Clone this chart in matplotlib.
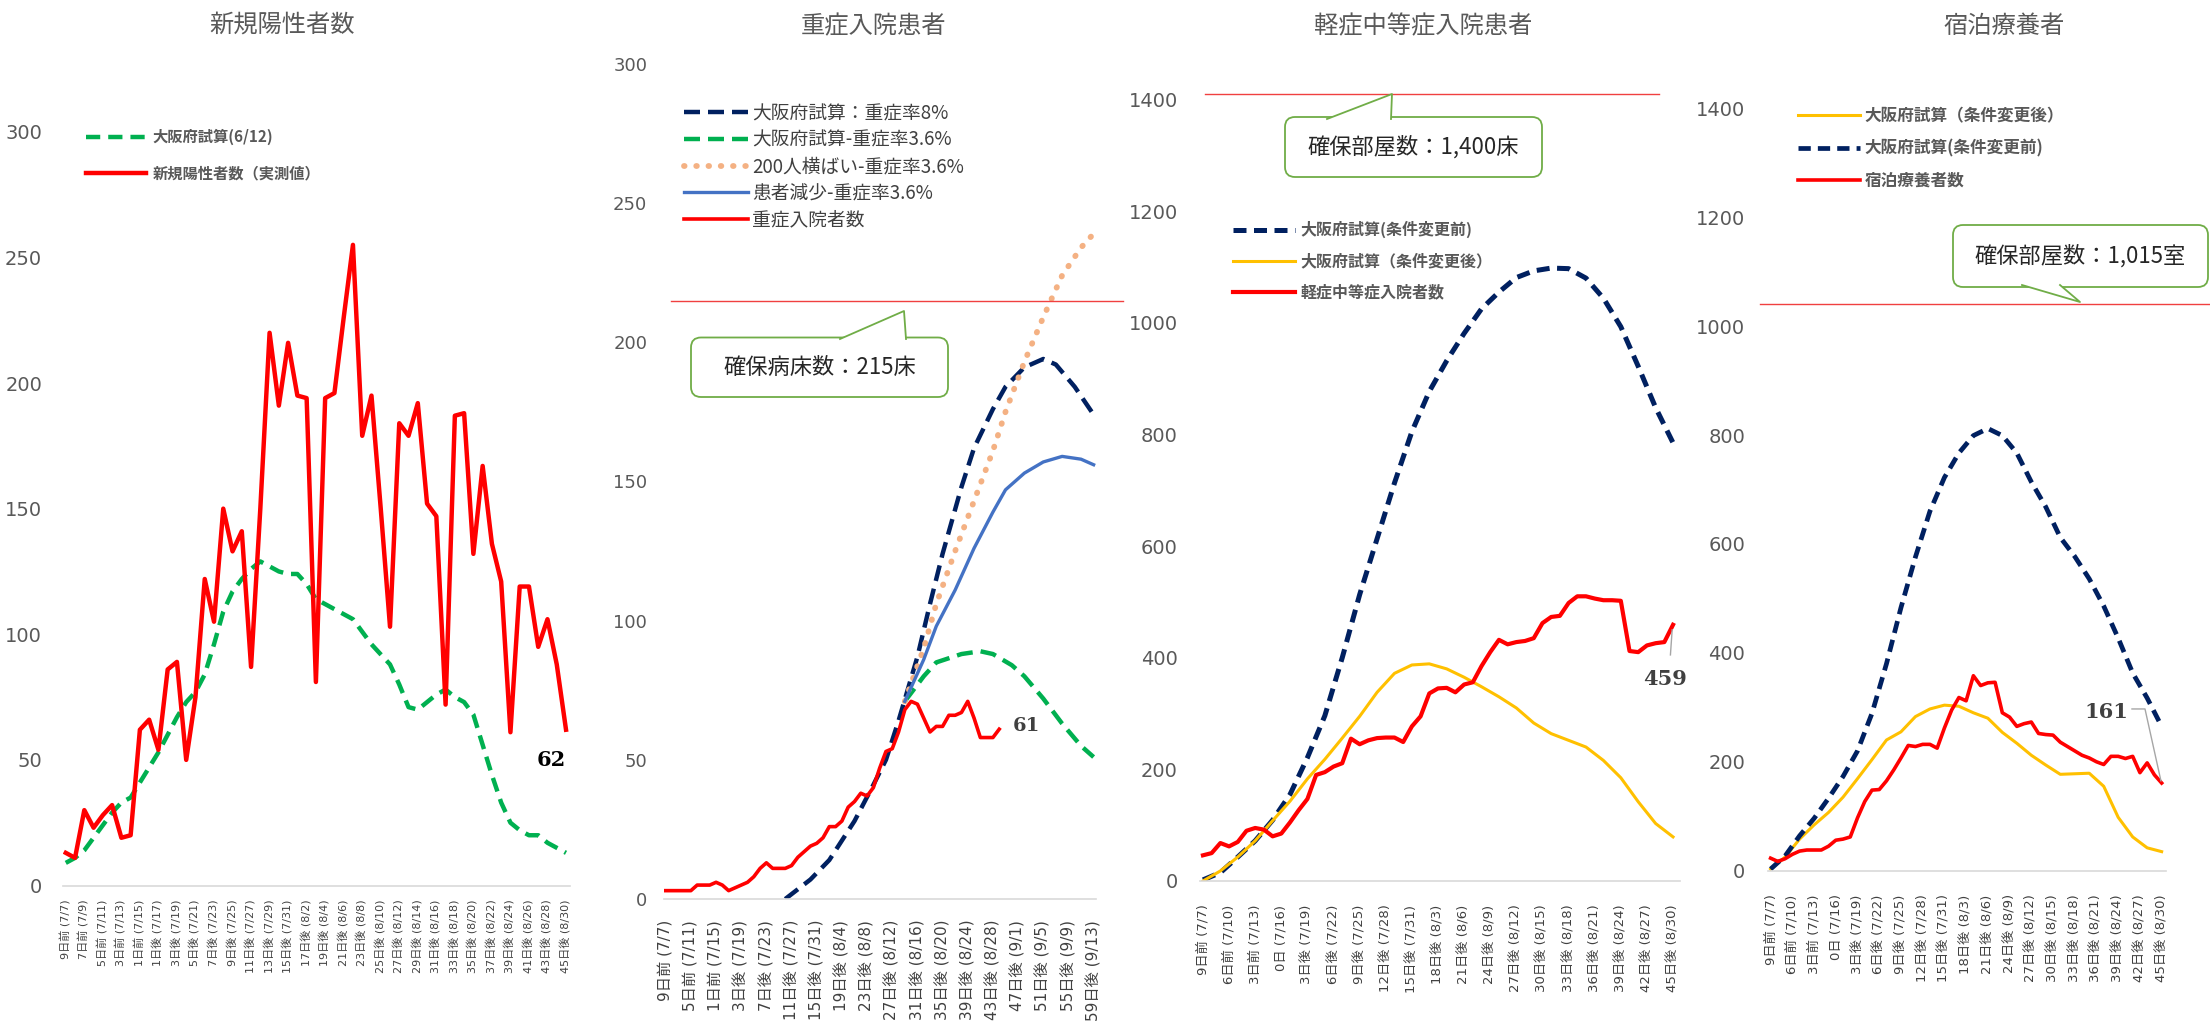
import matplotlib
matplotlib.use("Agg")
import matplotlib.pyplot as plt
from matplotlib.patches import FancyBboxPatch, Polygon
from matplotlib.lines import Line2D
from matplotlib.transforms import Affine2D

W, H = 2210, 1021
plt.rcParams['font.family'] = ['DejaVu Sans', 'Noto Sans CJK JP']
JP = ['Noto Sans CJK JP', 'DejaVu Sans']

# ---------------- data ----------------
# panel 1: 新規陽性者数, daily 7/7 .. 8/30 (day index 0..54)
days_p1 = list(range(55))
new_cases = [13, 11, 30, 23, 28, 32, 19, 20, 62, 66, 54, 86, 89, 50, 75, 122, 105, 150, 133, 141,
             87, 150, 220, 191, 216, 195, 194, 81, 194, 196, 226, 255, 179, 195, 150, 103, 184, 179, 192, 152,
             147, 72, 187, 188, 132, 167, 136, 121, 61, 119, 119, 95, 106, 88, 62]
osaka_0612 = [9, 11, 14, 19, 24, 29, 33, 35, 41, 47, 53, 60, 67, 73, 77, 84, 96, 109, 117, 122,
              126, 129, 127, 125, 124, 124, 120, 114, 112, 110, 108, 106, 101, 96, 92, 88, 80, 71, 70, 73,
              76, 78, 75, 73, 68, 56, 44, 33, 25, 22, 20, 20, 17, 15, 13]
labels_p1 = ['9日前 (7/7)', '7日前 (7/9)', '5日前 (7/11)', '3日前 (7/13)', '1日前 (7/15)', '1日後 (7/17)',
             '3日後 (7/19)', '5日後 (7/21)', '7日後 (7/23)', '9日後 (7/25)', '11日後 (7/27)', '13日後 (7/29)',
             '15日後 (7/31)', '17日後 (8/2)', '19日後 (8/4)', '21日後 (8/6)', '23日後 (8/8)', '25日後 (8/10)',
             '27日後 (8/12)', '29日後 (8/14)', '31日後 (8/16)', '33日後 (8/18)', '35日後 (8/20)', '37日後 (8/22)',
             '39日後 (8/24)', '41日後 (8/26)', '43日後 (8/28)', '45日後 (8/30)']

# panel 2: 重症入院患者, days from 7/7 (0..68)
days_severe = list(range(54))
severe = [3, 3, 3, 3, 3, 5, 5, 5, 6, 5, 3, 4, 5, 6, 8, 11, 13, 11, 11, 11,
          12, 15, 17, 19, 20, 22, 26, 26, 28, 33, 35, 38, 37, 40, 47, 53, 54, 60, 68, 71,
          70, 65, 60, 62, 62, 66, 66, 67, 71, 65, 58, 58, 58, 61]
days_rate8 = [19, 23, 26, 30, 33, 35, 37, 40, 42, 44, 47, 49, 52, 54, 57, 60, 62, 65, 68]
rate8 = [0, 7, 14, 28, 41, 50, 64, 87, 106, 124, 148, 162, 176, 184, 191, 194, 192, 184, 174]
days_rate36 = [38, 41, 43, 47, 50, 52, 55, 57, 60, 63, 66, 68]
rate36 = [71, 80, 85, 88, 89, 88, 84, 80, 72, 63, 55, 51]
days_flat200 = [38, 41, 43, 46, 49, 52, 54, 57, 60, 63, 66, 68]
flat200 = [71, 90, 106, 125, 143, 161, 175, 193, 209, 224, 234, 239]
days_decline = [38, 41, 43, 46, 49, 52, 54, 57, 60, 63, 66, 68]
decline = [71, 86, 98, 111, 126, 139, 147, 153, 157, 159, 158, 156]
labels_p2 = ['9日前 (7/7)', '5日前 (7/11)', '1日前 (7/15)', '3日後 (7/19)', '7日後 (7/23)', '11日後 (7/27)',
             '15日後 (7/31)', '19日後 (8/4)', '23日後 (8/8)', '27日後 (8/12)', '31日後 (8/16)', '35日後 (8/20)',
             '39日後 (8/24)', '43日後 (8/28)', '47日後 (9/1)', '51日後 (9/5)', '55日後 (9/9)', '59日後 (9/13)']

# panel 3: 軽症中等症入院患者
days_p3 = list(range(55))
mild = [46, 50, 68, 62, 70, 90, 95, 92, 80, 85, 105, 127, 147, 190, 195, 205, 211, 255, 245, 252,
        256, 257, 257, 249, 277, 295, 336, 345, 346, 338, 352, 356, 385, 410, 432, 424, 428, 430, 435, 462,
        473, 475, 498, 510, 510, 506, 503, 503, 502, 412, 410, 422, 426, 428, 459]
proj_days = list(range(0, 55, 2))
mild_before = [2, 15, 43, 72, 109, 155, 221, 296, 400, 513, 613, 713, 805, 877, 932, 981, 1025, 1055,
               1081, 1093, 1098, 1097, 1080, 1044, 993, 922, 848, 785]
mild_after = [0, 18, 43, 72, 108, 143, 183, 218, 256, 295, 338, 372, 387, 389, 380, 365, 348, 330,
              310, 283, 264, 252, 240, 216, 185, 142, 103, 79]

# panel 4: 宿泊療養者
hotel = [23, 17, 22, 30, 36, 38, 38, 38, 45, 56, 58, 62, 97, 127, 148, 149, 165, 185, 207, 230,
         228, 232, 232, 225, 262, 295, 318, 312, 358, 340, 345, 346, 290, 282, 265, 270, 273, 252, 250, 249,
         236, 228, 220, 212, 207, 200, 195, 210, 210, 206, 210, 180, 198, 176, 161]
hotel_before = [3, 27, 64, 96, 133, 173, 220, 289, 380, 483, 576, 660, 722, 767, 799, 812, 799, 767,
                714, 668, 612, 577, 536, 486, 427, 363, 317, 265]
hotel_after = [3, 25, 58, 84, 107, 135, 169, 204, 240, 255, 283, 297, 304, 302, 290, 280, 254, 234,
               212, 194, 177, 178, 179, 155, 98, 62, 42, 35]
labels_p34 = ['9日前 (7/7)', '6日前 (7/10)', '3日前 (7/13)', '0日 (7/16)', '3日後 (7/19)', '6日後 (7/22)',
              '9日後 (7/25)', '12日後 (7/28)', '15日後 (7/31)', '18日後 (8/3)', '21日後 (8/6)', '24日後 (8/9)',
              '27日後 (8/12)', '30日後 (8/15)', '33日後 (8/18)', '36日後 (8/21)', '39日後 (8/24)', '42日後 (8/27)',
              '45日後 (8/30)']

RED = '#ff0000'
GREEN = '#00b050'
NAVY = '#002060'
ORANGE = '#f4b183'
BLUE = '#4472c4'
YELLOW = '#ffc000'
BOXEDGE = '#70ad47'

fig = plt.figure(figsize=(W / 100, H / 100), dpi=100)
px = Affine2D().scale(1 / W, -1 / H).translate(0, 1) + fig.transFigure


def add_ax(left, right, top, bottom):
    return fig.add_axes([left / W, 1 - bottom / H, (right - left) / W, (bottom - top) / H])


def style(ax, xlim, ylim, yticks, xticks, xlabels, ypad, xpad, xsize, ysize):
    ax.set_xlim(*xlim)
    ax.set_ylim(*ylim)
    for s in ['top', 'right', 'left']:
        ax.spines[s].set_visible(False)
    ax.spines['bottom'].set_color('#d9d9d9')
    ax.spines['bottom'].set_linewidth(1.2)
    ax.set_yticks(yticks)
    ax.set_xticks(xticks)
    ax.set_xticklabels(xlabels, rotation=90, family=['DejaVu Sans', 'Noto Sans CJK JP'])
    ax.tick_params(axis='y', length=0, pad=ypad, labelsize=ysize, labelcolor='#595959')
    ax.tick_params(axis='x', length=0, pad=xpad, labelsize=xsize, labelcolor='#404040')


def callout(x0, y0, x1, y1, wedge, text):
    box = FancyBboxPatch((x0, y0), x1 - x0, y1 - y0, boxstyle='round,pad=0,rounding_size=10',
                         transform=px, facecolor='white', edgecolor=BOXEDGE, lw=1.3, zorder=5)
    fig.add_artist(box)
    fig.add_artist(Polygon(wedge, closed=True, transform=px, facecolor='white', edgecolor='none', zorder=6))
    a, tip, b = wedge
    fig.add_artist(Line2D([a[0], tip[0], b[0]], [a[1], tip[1], b[1]], transform=px,
                          color=BOXEDGE, lw=1.3, zorder=7))
    fig.text((x0 + x1) / 2 / W, 1 - (y0 + y1) / 2 / H, text, ha='center', va='center',
             fontsize=16, family=JP, color='#262626', zorder=8)


def title(xc, text):
    fig.text(xc / W, 1 - 26 / H, text, ha='center', va='center', fontsize=17.5, family=JP, color='#595959')


# ---------------- panel 1 ----------------
ax1 = add_ax(63, 570, 131.8, 885.5)
g1, = ax1.plot(days_p1, osaka_0612, color=GREEN, lw=3.2, ls=(0, (3.2, 1.8)))
r1, = ax1.plot(days_p1, new_cases, color=RED, lw=3.2)
style(ax1, (-0.3, 54.43), (0, 300), range(0, 301, 50), range(0, 55, 2), labels_p1, 15, 10, 8, 14)
ax1.text(52.4, 50, '62', ha='center', va='center', fontsize=15, family='DejaVu Serif',
         weight='bold', color='black')
ax1.legend([g1, r1], ['大阪府試算(6/12)', '新規陽性者数（実測値）'], loc='upper left',
           bbox_to_anchor=(86 / W, 1 - 129 / H), bbox_transform=fig.transFigure, frameon=False,
           borderpad=0, borderaxespad=0, handlelength=3.9, handletextpad=0.45, labelspacing=1.3,
           prop=dict(family=JP, size=11, weight='bold'), labelcolor='#595959')
title(282, '新規陽性者数')

# ---------------- panel 2 ----------------
ax2 = add_ax(664, 1096, 63.9, 899)
n2, = ax2.plot(days_rate8, rate8, color=NAVY, lw=3.2, ls=(0, (3.6, 1.8)))
g2, = ax2.plot(days_rate36, rate36, color=GREEN, lw=3.2, ls=(0, (3.6, 1.8)))
o2, = ax2.plot(days_flat200, flat200, color=ORANGE, lw=4.2, ls=(0, (0.1, 2.0)), dash_capstyle='round')
b2, = ax2.plot(days_decline, decline, color=BLUE, lw=2.4)
r2, = ax2.plot(days_severe, severe, color=RED, lw=2.6)
style(ax2, (-0.27, 68.38), (0, 300), range(0, 301, 50), range(0, 69, 4), labels_p2, 12, 15, 11, 13)
ax2.axhline(215, xmin=0.016, xmax=1.062, color='#f04040', lw=1.0, clip_on=False)
ax2.text(57.3, 62, '61', ha='center', va='center', fontsize=14, family='DejaVu Serif',
         weight='bold', color='#404040')
ax2.legend([n2, g2, o2, b2, r2],
           ['大阪府試算：重症率8%', '大阪府試算-重症率3.6%', '200人横ばい-重症率3.6%',
            '患者減少-重症率3.6%', '重症入院者数'],
           loc='upper left', bbox_to_anchor=(684 / W, 1 - 103 / H), bbox_transform=fig.transFigure,
           frameon=False, borderpad=0, borderaxespad=0, handlelength=3.4, handletextpad=0.25,
           labelspacing=0.3, prop=dict(family=JP, size=13.5), labelcolor='#404040')
callout(691, 337.5, 948, 397, [(840, 339), (904, 311), (906, 339)], '確保病床数：215床')
title(874, '重症入院患者')

# ---------------- panel 3 ----------------
ax3 = add_ax(1200, 1680, 99.5, 881)
n3, = ax3.plot(proj_days, mild_before, color=NAVY, lw=3.6, ls=(0, (2.6, 1.5)))
y3, = ax3.plot(proj_days, mild_after, color=YELLOW, lw=2.2)
r3, = ax3.plot(days_p3, mild, color=RED, lw=3.0)
style(ax3, (-0.34, 54.8), (0, 1400), range(0, 1401, 200), range(0, 55, 3), labels_p34, 16, 17, 9.5, 14)
ax3.axhline(1410, xmin=0.01, xmax=0.956, color='#f04040', lw=1.0, clip_on=False)
ax3.plot([53.9, 53.7], [450, 405], color='#a6a6a6', lw=1)
ax3.text(53.1, 362, '459', ha='center', va='center', fontsize=15, family='DejaVu Serif',
         weight='bold', color='#404040')
ax3.legend([n3, y3, r3], ['大阪府試算(条件変更前)', '大阪府試算（条件変更後）', '軽症中等症入院者数'],
           loc='upper left', bbox_to_anchor=(1233 / W, 1 - 221 / H), bbox_transform=fig.transFigure,
           frameon=False, borderpad=0, borderaxespad=0, handlelength=3.9, handletextpad=0.35,
           labelspacing=0.95, prop=dict(family=JP, size=11.5, weight='bold'), labelcolor='#595959')
callout(1285, 117, 1542, 177, [(1327, 119), (1392, 94), (1391, 119)], '確保部屋数：1,400床')
title(1423, '軽症中等症入院患者')

# ---------------- panel 4 ----------------
ax4 = add_ax(1768, 2166, 108.3, 870.7)
y4, = ax4.plot(proj_days, hotel_after, color=YELLOW, lw=2.2)
n4, = ax4.plot(proj_days, hotel_before, color=NAVY, lw=3.4, ls=(0, (2.6, 1.5)))
r4, = ax4.plot(days_p3, hotel, color=RED, lw=2.6)
style(ax4, (-0.36, 54.6), (0, 1400), range(0, 1401, 200), range(0, 55, 3), labels_p34, 16.5, 17, 9.5, 14)
ax4.axhline(1040, xmin=-0.02, xmax=1.11, color='#f04040', lw=1.0, clip_on=False)
ax4.plot([49.9, 51.7, 53.9], [297, 297, 165], color='#a6a6a6', lw=1)
ax4.text(46.3, 291, '161', ha='center', va='center', fontsize=15, family='DejaVu Serif',
         weight='bold', color='#404040')
ax4.legend([y4, n4, r4], ['大阪府試算（条件変更後）', '大阪府試算(条件変更前)', '宿泊療養者数'],
           loc='upper left', bbox_to_anchor=(1798 / W, 1 - 107 / H), bbox_transform=fig.transFigure,
           frameon=False, borderpad=0, borderaxespad=0, handlelength=3.7, handletextpad=0.3,
           labelspacing=0.87, prop=dict(family=JP, size=12, weight='bold'), labelcolor='#595959')
callout(1953, 225, 2208, 287, [(2022, 285), (2080, 302), (2060, 285)], '確保部屋数：1,015室')
title(2004, '宿泊療養者')

fig.savefig('out.png', dpi=100, facecolor='white')
